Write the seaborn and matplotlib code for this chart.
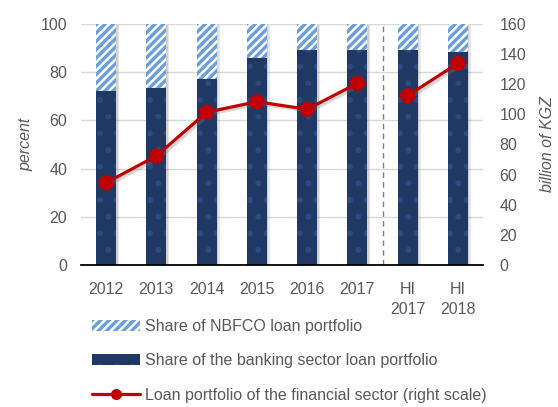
import numpy as np
import pandas as pd
import matplotlib
matplotlib.use('Agg')
import matplotlib.pyplot as plt
import matplotlib.patheffects as pe
from matplotlib.patches import Patch, Rectangle
from matplotlib.lines import Line2D
import seaborn as sns

# data
categories = ['2012', '2013', '2014', '2015', '2016', '2017', 'HI\n2017', 'HI\n2018']
bank_share = [72, 73.5, 77, 86, 89.2, 89.2, 89.2, 88.5]
total_share = [100, 100, 100, 100, 100, 100, 100, 100]
loan_portfolio = [54.6, 72.4, 101.4, 108.4, 103.4, 120.6, 112.4, 133.9]

sns.set_style('white')
plt.rcParams['font.family'] = ['Liberation Sans', 'DejaVu Sans']
plt.rcParams['hatch.linewidth'] = 1.8

grey_txt = '#595959'
light_blue = '#6A9FDB'
dark_blue = '#1F3864'
red = '#C00000'

df = pd.DataFrame({'cat': categories, 'bank': bank_share, 'total': total_share})

fig = plt.figure(figsize=(5.58, 4.07), dpi=100)
ax = fig.add_axes([81 / 558, 1 - 265 / 407, 402 / 558, 241 / 407])

# NBFCO share (full bar, hatched), banking share on top
sns.barplot(data=df, x='cat', y='total', ax=ax, color=light_blue, saturation=1,
            width=0.4, edgecolor='white', linewidth=0, hatch='////')
n_light = len(ax.patches)
sns.barplot(data=df, x='cat', y='bank', ax=ax, color=dark_blue, saturation=1,
            width=0.4, edgecolor='#2B4B80', linewidth=0, hatch='.')

# soft shadow to the right of each full bar
for p in ax.patches[:n_light]:
    x0, w, h = p.get_x(), p.get_width(), p.get_height()
    for k, a in [(0.06, 0.18), (0.03, 0.22)]:
        ax.add_patch(Rectangle((x0 + k, 0), w, h * 0.995, facecolor='#7F7F7F',
                               alpha=a, linewidth=0, zorder=p.get_zorder() - 0.1))

ax.set_ylim(0, 100)
ax.set_xlim(-0.5, 7.5)
ax.set_yticks(range(0, 101, 20))
ax.grid(axis='y', color='#D9D9D9', linewidth=1)
ax.set_axisbelow(True)
for s in ['top', 'right', 'left']:
    ax.spines[s].set_visible(False)
ax.spines['bottom'].set_color('black')
ax.spines['bottom'].set_linewidth(1.3)
ax.spines['bottom'].set_zorder(5)
ax.set_xticks(np.arange(-0.5, 8, 1), minor=True)
ax.tick_params(axis='x', which='minor', direction='in', length=5, width=1.2, color='black')
ax.tick_params(axis='x', which='major', length=0, pad=12, labelsize=11.5, labelcolor=grey_txt)
for t in ax.get_xticklabels():
    t.set_linespacing(1.45)
ax.tick_params(axis='y', length=0, pad=10, labelsize=11.5, labelcolor=grey_txt)
ax.set_xlabel('')
ax.set_ylabel('percent', fontsize=11.5, color=grey_txt, style='italic', labelpad=5)

ax.axvline(5.5, color='#7F7F7F', linestyle=(0, (4, 3)), linewidth=1)

# right axis: loan portfolio
ax2 = ax.twinx()
x_pos = np.arange(len(categories))
line_fx = [pe.SimpleLineShadow(offset=(2, -1.5), shadow_color='#808080', alpha=0.3), pe.Normal()]
for seg in [slice(0, 6), slice(6, 8)]:
    sns.lineplot(x=x_pos[seg], y=loan_portfolio[seg], ax=ax2, color=red, linewidth=2.3,
                 marker='o', markersize=11, markeredgewidth=0, path_effects=line_fx)
ax2.set_ylim(0, 160)
ax2.set_yticks(range(0, 161, 20))
for s in ['top', 'right', 'left', 'bottom']:
    ax2.spines[s].set_visible(False)
ax2.tick_params(axis='y', length=0, pad=12, labelsize=11.5, labelcolor=grey_txt)
ax2.set_ylabel('billion of KGZ', fontsize=11.5, color=grey_txt, style='italic', labelpad=10)
ax2.set_xlim(-0.5, 7.5)

handles = [
    Patch(facecolor=light_blue, edgecolor='white', linewidth=0, hatch='////'),
    Patch(facecolor=dark_blue, edgecolor='#2B4B80', linewidth=0, hatch='.'),
    Line2D([0], [0], color=red, linewidth=2.3, marker='o', markersize=8, markeredgewidth=0),
]
labels = ['Share of NBFCO loan portfolio',
          'Share of the banking sector loan portfolio',
          'Loan portfolio of the financial sector (right scale)']
leg = fig.legend(handles, labels, loc='upper left', bbox_to_anchor=(92 / 558, 1 - 319 / 407),
                 frameon=False, fontsize=11.5, handlelength=3.0, handletextpad=0.3,
                 labelspacing=1.22, borderpad=0, borderaxespad=0, numpoints=1)
for t in leg.get_texts():
    t.set_color(grey_txt)

fig.savefig('out.png', dpi=100)
